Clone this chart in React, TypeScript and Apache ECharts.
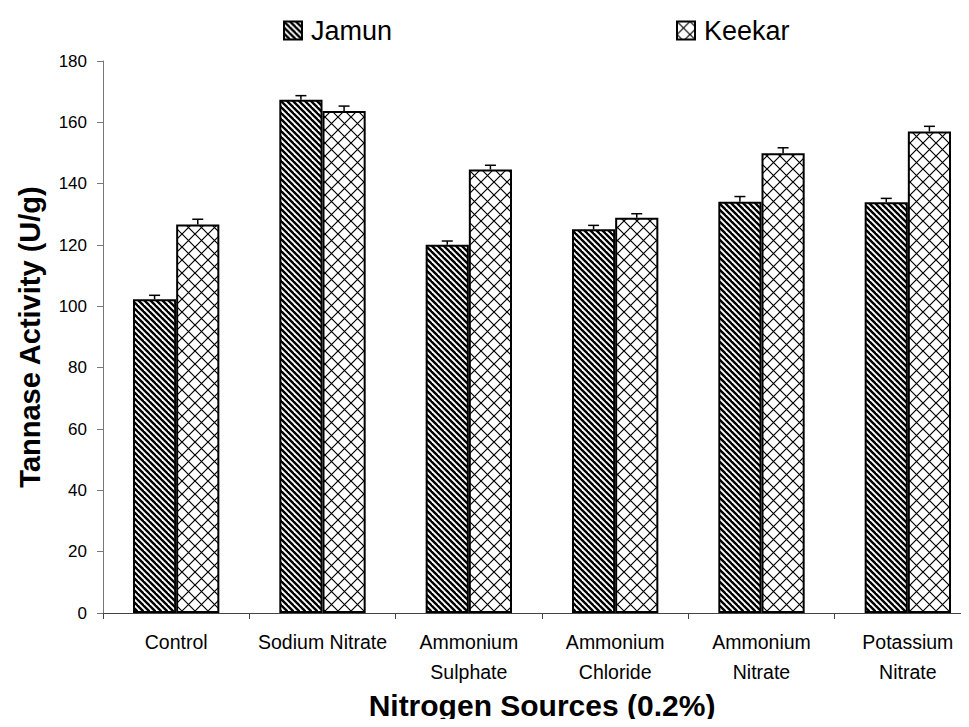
import React, { useEffect, useRef } from "react";
import * as echarts from "echarts";

const categories = [
  "Control",
  "Sodium Nitrate",
  "Ammonium\nSulphate",
  "Ammonium\nChloride",
  "Ammonium\nNitrate",
  "Potassium\nNitrate",
];
const jamun = [102.3, 167.4, 120.1, 125.1, 134.1, 133.9];
const jamunErr = [1.3, 1.3, 1.2, 1.3, 1.7, 1.3];
const keekar = [126.7, 163.7, 144.6, 128.9, 149.9, 157.0];
const keekarErr = [1.7, 1.6, 1.4, 1.3, 1.8, 1.7];
const yTicks = [0, 20, 40, 60, 80, 100, 120, 140, 160, 180];

const FONT = "'Liberation Sans', Arial, sans-serif";
const GAP = 0.41;

function stripePattern() {
  const s = 6;
  const c = document.createElement("canvas");
  c.width = s;
  c.height = s;
  const ctx = c.getContext("2d")!;
  ctx.fillStyle = "#fff";
  ctx.fillRect(0, 0, s, s);
  ctx.strokeStyle = "#000";
  ctx.lineWidth = 2.4;
  for (let k = -1; k <= 1; k++) {
    ctx.beginPath();
    ctx.moveTo(k * s - 1, -1);
    ctx.lineTo(k * s + s + 1, s + 1);
    ctx.stroke();
  }
  return { image: c, repeat: "repeat", imageWidth: s, imageHeight: s };
}

function crossPattern() {
  const n = 13;
  const c = document.createElement("canvas");
  c.width = n;
  c.height = n;
  const ctx = c.getContext("2d")!;
  ctx.fillStyle = "#fff";
  ctx.fillRect(0, 0, n, n);
  ctx.strokeStyle = "#000";
  ctx.lineWidth = 1.2;
  ctx.beginPath();
  ctx.moveTo(-1, -1);
  ctx.lineTo(n + 1, n + 1);
  ctx.moveTo(n + 1, -1);
  ctx.lineTo(-1, n + 1);
  ctx.stroke();
  return { image: c, repeat: "repeat", imageWidth: n, imageHeight: n };
}

function errSeries(name: string, vals: number[], errs: number[], side: number) {
  return {
    type: "custom",
    name,
    data: vals.map((v, i) => [i, v, errs[i]]),
    encode: { x: 0, y: 1 },
    z: 5,
    renderItem: (params: any, api: any) => {
      const x = api.value(0);
      const v = api.value(1);
      const e = api.value(2);
      const base = api.coord([x, v]);
      const top = api.coord([x, v + e]);
      const band = api.size([1, 0])[0];
      const bw = (band * (1 - GAP)) / 2;
      const cx = base[0] + (side * bw) / 2;
      return {
        type: "group",
        children: [
          {
            type: "line",
            shape: { x1: cx, y1: base[1], x2: cx, y2: top[1] },
            style: { stroke: "#000", lineWidth: 1.5 },
          },
          {
            type: "line",
            shape: { x1: cx - 5.5, y1: top[1], x2: cx + 5.5, y2: top[1] },
            style: { stroke: "#000", lineWidth: 1.5 },
          },
        ],
      };
    },
  };
}

export default function App() {
  const ref = useRef<HTMLDivElement>(null);
  useEffect(() => {
    if (!ref.current) return;
    const chart = echarts.init(ref.current, null, { renderer: "svg" });
    const jp = stripePattern();
    const kp = crossPattern();
    chart.setOption({
      animation: false,
      backgroundColor: "#fff",
      textStyle: { fontFamily: FONT },
      grid: {
        left: 103,
        right: 0,
        top: 61,
        bottom: 114,
        containLabel: false,
        outerBoundsMode: "none",
      },
      legend: [
        {
          data: ["Jamun"],
          left: 278,
          top: 12,
          icon: "rect",
          itemWidth: 18,
          itemHeight: 18,
          textStyle: { fontSize: 27, color: "#000", fontFamily: FONT, padding: [0, 0, 0, 4] },
        },
        {
          data: ["Keekar"],
          left: 671,
          top: 12,
          icon: "rect",
          itemWidth: 18,
          itemHeight: 18,
          textStyle: { fontSize: 27, color: "#000", fontFamily: FONT, padding: [0, 0, 0, 4] },
        },
      ],
      xAxis: {
        type: "category",
        data: categories,
        name: "Nitrogen Sources (0.2%)",
        nameLocation: "middle",
        nameGap: 77,
        nameMoveOverlap: false,
        nameTextStyle: { fontSize: 30, fontWeight: "bold", color: "#000", fontFamily: FONT },
        axisLine: { lineStyle: { color: "#444", width: 1 } },
        axisTick: { show: true, length: 6, alignWithLabel: false, lineStyle: { color: "#444" } },
        axisLabel: { fontSize: 19.5, color: "#000", margin: 14, lineHeight: 30, interval: 0 },
      },
      yAxis: {
        type: "value",
        min: 0,
        max: 180,
        interval: 20,
        name: "Tannase Activity (U/g)",
        nameLocation: "middle",
        nameGap: 59,
        nameMoveOverlap: false,
        nameTextStyle: { fontSize: 29, fontWeight: "bold", color: "#000", fontFamily: FONT },
        axisLine: { show: true, lineStyle: { color: "#777", width: 1 } },
        axisTick: { show: true, length: 6, lineStyle: { color: "#777" } },
        splitLine: { show: false },
        axisLabel: {
          fontSize: 17,
          color: "#000",
          margin: 16,
          formatter: (v: number) => (yTicks.includes(v) ? String(v) : ""),
        },
      },
      series: [
        {
          type: "bar",
          name: "Jamun",
          data: jamun,
          barGap: "0%",
          barCategoryGap: GAP * 100 + "%",
          itemStyle: { color: jp, borderColor: "#000", borderWidth: 2 },
        },
        {
          type: "bar",
          name: "Keekar",
          data: keekar,
          barGap: "0%",
          barCategoryGap: GAP * 100 + "%",
          itemStyle: { color: kp, borderColor: "#000", borderWidth: 2 },
        },
        errSeries("Jamun SE", jamun, jamunErr, -1),
        errSeries("Keekar SE", keekar, keekarErr, 1),
      ],
    });
    return () => chart.dispose();
  }, []);
  return (
    <div style={{ width: 969, height: 727, margin: -8, overflow: "hidden", background: "#fff" }}>
      <div ref={ref} style={{ width: 981, height: 727 }} />
    </div>
  );
}
